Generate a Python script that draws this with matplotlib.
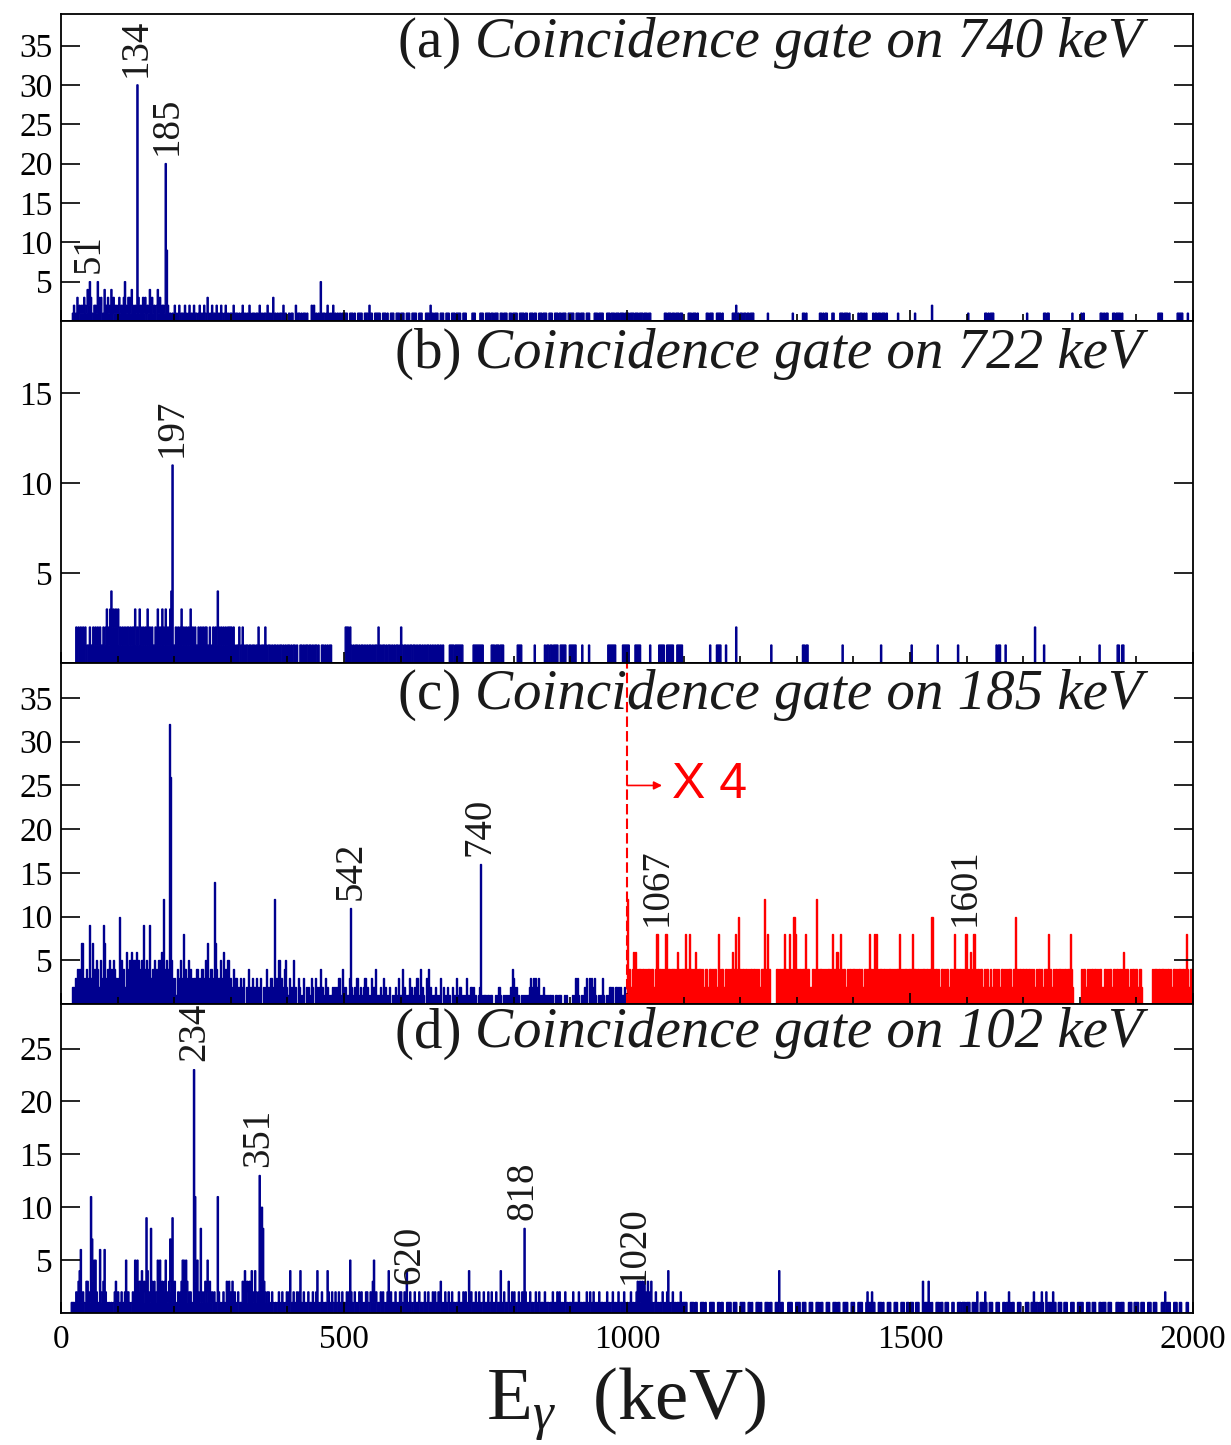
import numpy as np
import matplotlib.pyplot as plt

plt.rcParams['font.family'] = 'Liberation Serif'
plt.rcParams['mathtext.fontset'] = 'custom'
plt.rcParams['mathtext.rm'] = 'Liberation Serif'
plt.rcParams['mathtext.it'] = 'Liberation Serif:italic'

# gamma spectra, 2 keV channels from 0 to 2000 keV
# one row = 100 keV = 50 channels, counts written as base-36 digits
BIN = 2.0
edges = np.arange(0, 2000 + BIN, BIN)

spec_740 = [
    "0000000000 1201302121 3214253102 2153230142 2312403121",
    "2312035213 3142021u31 2031302142 3120241302 21k9201010",
    "2101201102 1012010211 0120102103 1012110201 0210120101",
    "1020110101 2010102101 1011020101 1020101301 0101102010",
    "0101100201 1010110100 0202010105 0110121010 2010101010",
    "1110011101 0011110011 1021100111 1100111010 0111001110",
    "1110011100 1111001110 0011102110 1110011100 1110011101",
    "1110011100 0001110000 1110011110 1101110011 0111001101",
    "1110011110 1100111011 0011101110 0111001110 1101110011",
    "1110011101 1100111000 0111011110 0011101110 1110111011",
    "1101110111 0111011101 1000000000 0001101110 1101110110",
    "0000111011 1010000000 1101110001 1110100000 0001112010",
    "1101101101 1100000000 0000100000 0000000000 0000001000",
    "0000011010 0000000000 1101011000 0110000011 1011101000",
    "0000101101 0100000101 1011011101 0000000001 0000000000",
    "0000100000 0000000002 0000000000 0000000000 0000000000",
    "0100000000 0000001101 0111000000 0000000000 0000000000",
    "0001000000 0000000011 0110000000 0000000000 0001000000",
    "0101000000 0000000011 0101100001 1011110100 0000000000",
    "0000000000 0000000001 1110000000 0000001111 1000010000",
]

spec_722 = [
    "0000000000 0002021202 1201121121 2121211212 3213423232",
    "3121212122 1212231213 2121213121 2112131213 21312134b1",
    "1212123121 2121312121 1212121221 1201212142 1212121222",
    "2121011201 2101101101 1011210110 2101101011 0101101010",
    "1101011010 0110101101 1010110100 1101010110 0000000000",
    "0222121010 1101011010 1011010110 2010110101 1010101101",
    "2101101011 0110101101 0101101010 1011010100 0001111011",
    "1111100000 0000111111 1110000000 1110111011 1000000000",
    "0001111000 0000000010 0000000101 1011011110 0111110001",
    "1111100000 1000001000 0000000000 0001111111 0000001111",
    "1100000111 1100000000 1000000011 1110011111 1000111110",
    "0000000000 0000000000 0001000001 1110000100 0000002000",
    "0000000000 0000000000 0000000100 0000000000 0000000000",
    "0000011011 0000000000 0000000000 0000000000 1000000000",
    "0000000000 0000000000 0000100000 0000000000 0000000000",
    "0100000000 0000000000 0000100000 0000000000 0010000000",
    "0000000000 0000000000 0000001011 0000100000 0000000000",
    "0000000000 2000000010 0000000000 0000000000 0000000000",
    "0000000000 0000000100 0000000000 0001100110 0000000000",
    "0000000000 0000000000 0000000000 0000000000 0000000000",
]

# above 1000 keV the 185 keV gate is shown multiplied by 4
spec_185 = [
    "0000000000 2132434273 2342393724 3542532973 2453425432",
    "3a45342634 5463546254 3594352493 4253425364 c4354wq532",
    "3142352384 2352431324 4231423527 32432e7423 5236243523",
    "2142312132 1302141213 2130213021 24121321c2 3152312452",
    "1302151203 2101302120 1320312024 2103121012 1202130142",
    "12013b2102 1310210231 2101302401 1021302101 2010121031",
    "1402101312 0121301402 1031402101 2010130210 1201021013",
    "1021010131 0221201012 g101101101 1001012210 1010101243",
    "2120101010 1012312323 2310102101 0110101101 1100101000",
    "0101313101 0121303131 2310101031 0101221202 2120211200",
    "c242462642 4424424244 2442248244 2424824424 4424644244",
    "4824484242 6424424024 4244242442 8424422424 24464824a4",
    "4242442424 2442424244 4c42840000 0042442448 4248424a84",
    "4244244824 4024424c42 4424242442 4824464284 2442424424",
    "4242442424 4244842482 8424424424 2442424244 8404244244",
    "4284424424 244244244a 4244242442 4244244248 2424424248",
    "4246428424 4244242442 2424424242 4424242442 244a424424",
    "4242442424 2424424244 4284424244 2442424424 4842000000",
    "0424424242 4424242442 2442424424 4244242464 2442424424",
    "4244200000 0000424424 4244042440 4244042442 4424842444",
]

spec_102 = [
    "0000000001 1102134612 103321b735 5210621362 1010101231",
    "2012012522 1012153523 3423194218 3231253523 2352137292",
    "3102123554 5312210nb3 5218212315 23120210b2 1012103232",
    "2312012011 3242313241 24212d3a83 2122012101 0120121012",
    "1240120121 2410210120 1021024101 2101042012 1020121021",
    "1021252102 1012021012 2102135120 1021210124 1201021012",
    "2102140121 0120112010 1201201021 2012031012 1021021101",
    "1201021210 4120102012 1012010201 2101201140 1201031021",
    "2101210218 2101201012 0120110201 1011201021 2010120101",
    "1020110201 0110201201 2101020110 1020101201 0120110210",
    "1012010123 2313232131 2310120101 0210124101 2010110201",
    "1110001110 1100011101 0001111000 1101100011 1100111000",
    "1111000110 1000111010 0011101100 0111401100 0011110001",
    "1110011100 0111000111 0110001110 0011101100 0111100011",
    "1000111100 0121112110 0011101000 1110001110 0011100110",
    "1110011100 0301113101 0001110110 0111000110 0011101110",
    "1110011012 0011102100 1110001110 0011011210 1100011100",
    "0011100112 1110112100 2011102110 0111001110 0011100011",
    "1110001110 0111000110 1110011100 0011101110 0001110011",
    "1100111000 1110011100 0011120111 0001110011 0000110000",
]

letters = ["a", "b", "c", "d"]
gates = [740, 722, 185, 102]
spectra = [spec_740, spec_722, spec_185, spec_102]
ymax = [39, 19, 39, 29.2]
yticks = [[5, 10, 15, 20, 25, 30, 35], [5, 10, 15],
          [5, 10, 15, 20, 25, 30, 35], [5, 10, 15, 20, 25]]
# (text, energy in keV) of the marked transitions
peak_labels = [
    [("51", 49), ("134", 132), ("185", 187)],
    [("197", 196)],
    [("542", 512), ("740", 740), ("1067", 1054), ("1601", 1598)],
    [("234", 236), ("351", 349), ("620", 616), ("818", 816), ("1020", 1013)],
]
scale_from = 1000   # keV, start of the x4 region in (c)
scale_text = "X 4"

blue = "#00008f"
red = "#ff0000"
ink = "#1a1a1a"


def channels(rows):
    s = "".join(r.replace(" ", "") for r in rows)
    assert len(s) == len(edges) - 1, len(s)
    return np.array([int(c, 36) for c in s], dtype=float)


def histo(ax, vals, e, col):
    ax.stairs(vals, e, fill=True, color=col, lw=0)
    ax.stairs(vals, e, color=col, lw=1.0)


fig = plt.figure(figsize=(12.31, 14.45), dpi=100)
gs = fig.add_gridspec(4, 1, height_ratios=[307, 342, 341, 309], hspace=0,
                      left=0.0496, right=0.9691, top=0.9903, bottom=0.0913)

for k in range(4):
    ax = fig.add_subplot(gs[k])
    counts = channels(spectra[k])
    if letters[k] == "c":
        cut = int(scale_from / BIN)
        histo(ax, counts[:cut], edges[:cut + 1], blue)
        histo(ax, counts[cut:], edges[cut:], red)
        ax.axvline(scale_from, color=red, lw=1.5, ls=(0, (5, 2)))
        ax.annotate("", xy=(scale_from + 62, 25), xytext=(scale_from, 25),
                    arrowprops=dict(arrowstyle="-|>", color=red, lw=1.2,
                                    mutation_scale=12, shrinkA=0, shrinkB=0))
        ax.text(scale_from + 80, 25, scale_text, color=red, fontsize=36,
                family="Liberation Sans", ha="left", va="center")
    else:
        histo(ax, counts, edges, blue)

    for txt, e in peak_labels[k]:
        sel = (edges[:-1] >= e - 4) & (edges[:-1] <= e + 4)
        top = counts[sel].max()
        ax.annotate(txt, (e, top), xytext=(0, 6), textcoords="offset points",
                    rotation=90, ha="center", va="bottom", fontsize=28,
                    color=ink)

    # gate title: upright panel letter followed by italic text
    t = ax.text(0.956, 0.905, "Coincidence gate on %d keV" % gates[k],
                transform=ax.transAxes, ha="right", va="center", fontsize=41,
                style="italic", color=ink)
    ax.annotate("(%s) " % letters[k], xy=(0, 0.5), xycoords=t,
                ha="right", va="center", fontsize=41, color=ink)

    ax.set_xlim(0, 2000)
    ax.set_ylim(0, ymax[k])
    ax.set_yticks(yticks[k])
    ax.set_xticks(np.arange(0, 2001, 500))
    ax.set_xticks(np.arange(0, 2001, 100), minor=True)
    ax.tick_params(axis="both", which="both", direction="in", top=False,
                   right=True, labelsize=24, width=1.2, color="black")
    ax.tick_params(axis="y", which="major", length=14, pad=6)
    ax.tick_params(axis="x", which="major", length=8, pad=8)
    ax.tick_params(axis="x", which="minor", length=5)
    for sp in ax.spines.values():
        sp.set_linewidth(1.3)
        sp.set_zorder(3)
    if k < 3:
        ax.tick_params(axis="x", labelbottom=False)

fig.text(0.5085, 0.029, r"E$_\gamma$  (keV)", ha="center", va="center",
         fontsize=54, color=ink)

fig.savefig("out.png", dpi=100)
